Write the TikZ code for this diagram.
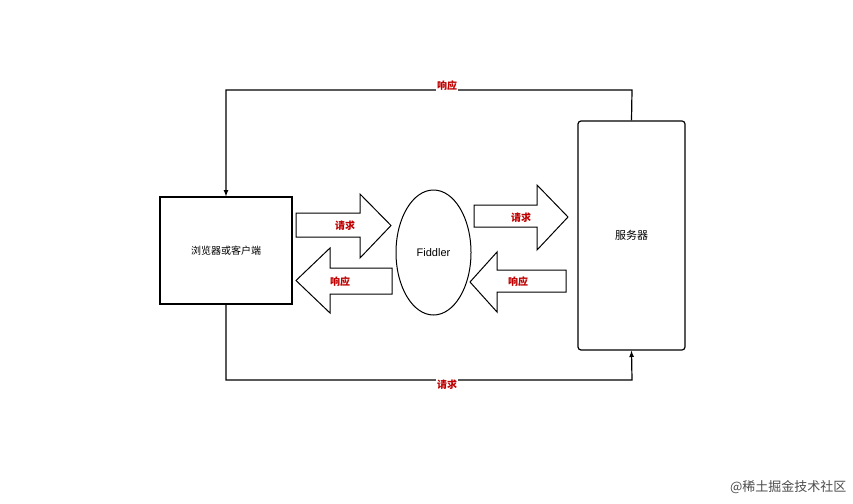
\documentclass[tikz,border=0pt]{standalone}
\usepackage{fontspec}
\usetikzlibrary{shapes.geometric}
\setmainfont{Liberation Sans}
\newfontfamily\cjk{Noto Sans CJK SC}
\begin{document}
\begin{tikzpicture}[x=1pt,y=-1pt,
  box/.style={draw,line width=1.2pt,inner sep=0},
  lbl/.style={text=red!75!black,font=\cjk\bfseries\fontsize{10}{12}\selectfont},
  conn/.style={line width=1.2pt},
  fat/.style={draw,line width=1pt,fill=white}]
\useasboundingbox (0,0) rectangle (853,503);
\node[box,minimum width=132pt,minimum height=107pt] (b) at (226,250.5) {\cjk\fontsize{10}{12}\selectfont 浏览器或客户端};
\node[box,rounded corners=3pt,minimum width=107pt,minimum height=229pt] (s) at (631.5,235.5) {\cjk\fontsize{11}{13}\selectfont 服务器};
\node[draw,ellipse,line width=1pt,minimum width=75pt,minimum height=125pt,inner sep=0] (f) at (433.5,252.5) {\fontsize{11}{13}\selectfont Fiddler};
\coordinate (t1) at (632,90); \coordinate (t2) at (226,90);
\draw[conn,-latex] (s.north) -- (t1) -- (t2) -- (b.north);
\coordinate (u1) at (226,380); \coordinate (u2) at (632,380);
\draw[conn,-latex] (b.south) -- (u1) -- (u2) -- (s.south);
\node[lbl,fill=white,inner sep=1pt] at (447,86) {响应};
\node[lbl,fill=white,inner sep=1pt] at (447,385) {请求};
\draw[fat] (296,213) -- (360,213) -- (360,194) -- (391,225.5) -- (360,258) -- (360,237) -- (296,237) -- cycle;
\node[lbl] at (345,226) {请求};
\draw[fat] (392,268) -- (330,268) -- (330,248) -- (296,280.5) -- (330,313) -- (330,294) -- (392,294) -- cycle;
\node[lbl] at (340,282) {响应};
\draw[fat] (474,205) -- (537,205) -- (537,185) -- (568,217) -- (537,250) -- (537,227) -- (474,227) -- cycle;
\node[lbl] at (521,218) {请求};
\draw[fat] (566,270) -- (497,270) -- (497,252) -- (470,282) -- (497,312) -- (497,292) -- (566,292) -- cycle;
\node[lbl] at (518,282) {响应};
\node[anchor=east,text=black!70,font=\cjk\fontsize{13}{15}\selectfont] (w) at (850,487) {@稀土掘金技术社区};
\end{tikzpicture}
\end{document}
